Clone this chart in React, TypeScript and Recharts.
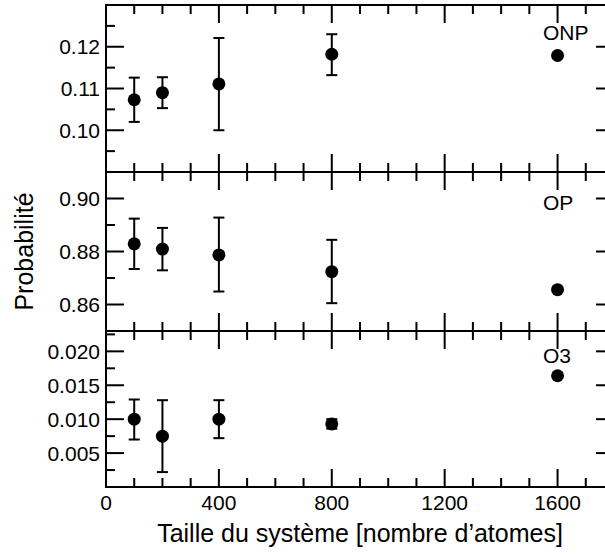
import React from 'react';
import { ScatterChart, Scatter, XAxis, YAxis, ErrorBar, ReferenceArea, Label } from 'recharts';

// ---- data ----
const sizes = [100, 200, 400, 800, 1600];

const onpValues = [0.1073, 0.109, 0.1111, 0.1182, 0.1179];
const onpLower = [0.102, 0.1053, 0.1, 0.1132, 0.1179];
const onpUpper = [0.1126, 0.1127, 0.1221, 0.123, 0.1179];

const opValues = [0.8829, 0.8809, 0.8787, 0.8724, 0.8656];
const opLower = [0.8734, 0.8729, 0.8649, 0.8605, 0.8656];
const opUpper = [0.8924, 0.8889, 0.8928, 0.8844, 0.8656];

const o3Values = [0.01, 0.0075, 0.01, 0.0093, 0.0164];
const o3Lower = [0.007, 0.0022, 0.0072, 0.0086, 0.0164];
const o3Upper = [0.0129, 0.0128, 0.0128, 0.01, 0.0164];

const xTicks = [0, 100, 200, 300, 400, 500, 600, 700, 800, 900, 1000, 1100, 1200, 1300, 1400, 1500, 1600, 1700, 1800];
const xMajorTicks = [0, 400, 800, 1200, 1600];
const xTickLabels = ['0', '400', '800', '1200', '1600'];

const onpMajorTicks = [0.1, 0.11, 0.12];
const onpMinorTicks = [0.095, 0.105, 0.115, 0.125];
const onpTickLabels = ['0.10', '0.11', '0.12'];

const opMajorTicks = [0.86, 0.88, 0.9];
const opMinorTicks = [0.87, 0.89];
const opTickLabels = ['0.86', '0.88', '0.90'];

const o3MajorTicks = [0.005, 0.01, 0.015, 0.02];
const o3MinorTicks = [0.0025, 0.0075, 0.0125, 0.0175, 0.0225];
const o3TickLabels = ['0.005', '0.010', '0.015', '0.020'];

const xTitle = 'Taille du système [nombre d\u2019atomes]';
const yTitle = 'Probabilité';

// ---- layout ----
const W = 620;
const H = 554;
const PLOT_LEFT = 106;
const PLOT_RIGHT = 614;
const Y_AXIS_W = 100;
const FONT = '"Liberation Sans", Arial, Helvetica, sans-serif';
const MAJOR_LEN = 18;
const MINOR_LEN = 9;

const findIdx = (arr: number[], v: number) => arr.findIndex((t) => Math.abs(t - v) < 1e-9);

type PanelCfg = {
  name: string;
  top: number;
  bottom: number;
  domain: [number, number];
  majors: number[];
  minors: number[];
  labels: string[];
  values: number[];
  lower: number[];
  upper: number[];
  nameDy: number;
  showX: boolean;
  showYTitle: boolean;
};

const panels: PanelCfg[] = [
  { name: 'ONP', top: 5, bottom: 172, domain: [0.09, 0.13], majors: onpMajorTicks, minors: onpMinorTicks, labels: onpTickLabels, values: onpValues, lower: onpLower, upper: onpUpper, nameDy: 35, showX: false, showYTitle: false },
  { name: 'OP', top: 172, bottom: 331, domain: [0.85, 0.91], majors: opMajorTicks, minors: opMinorTicks, labels: opTickLabels, values: opValues, lower: opLower, upper: opUpper, nameDy: 38, showX: false, showYTitle: true },
  { name: 'O3', top: 331, bottom: 487, domain: [0, 0.023], majors: o3MajorTicks, minors: o3MinorTicks, labels: o3TickLabels, values: o3Values, lower: o3Lower, upper: o3Upper, nameDy: 32, showX: true, showYTitle: false },
];

function Panel({ cfg }: { cfg: PanelCfg }) {
  const xAxisH = cfg.showX ? 60 : 10;
  const data = sizes.map((s, i) => ({
    x: s,
    y: cfg.values[i],
    err: [cfg.values[i] - cfg.lower[i], cfg.upper[i] - cfg.values[i]],
  }));
  const yTicks = [...cfg.majors, ...cfg.minors].sort((a, b) => a - b);

  const renderXTick = (p: any) => {
    const v = p.payload.value;
    const x = p.x;
    const idx = findIdx(xMajorTicks, v);
    const len = idx >= 0 ? MAJOR_LEN : MINOR_LEN;
    return (
      <g>
        <line x1={x} x2={x} y1={cfg.bottom} y2={cfg.bottom - len} stroke="#000" strokeWidth={2} />
        <line x1={x} x2={x} y1={cfg.top} y2={cfg.top + len} stroke="#000" strokeWidth={2} />
        {cfg.showX && idx >= 0 ? (
          <text x={x} y={cfg.bottom + 23} textAnchor="middle" fontSize={21} fontFamily={FONT} fill="#000">
            {xTickLabels[idx]}
          </text>
        ) : null}
      </g>
    );
  };

  const renderYTick = (p: any) => {
    const v = p.payload.value;
    const y = p.y;
    const idx = findIdx(cfg.majors, v);
    const len = idx >= 0 ? MAJOR_LEN : MINOR_LEN;
    return (
      <g>
        <line x1={PLOT_LEFT} x2={PLOT_LEFT + len} y1={y} y2={y} stroke="#000" strokeWidth={2} />
        <line x1={PLOT_RIGHT - len} x2={PLOT_RIGHT} y1={y} y2={y} stroke="#000" strokeWidth={2} />
        {idx >= 0 ? (
          <text x={PLOT_LEFT - 6} y={y} dy="0.36em" textAnchor="end" fontSize={21} fontFamily={FONT} fill="#000">
            {cfg.labels[idx]}
          </text>
        ) : null}
      </g>
    );
  };

  return (
    <div style={{ position: 'absolute', left: 0, top: 0 }}>
      <ScatterChart
        width={W}
        height={H}
        margin={{ top: cfg.top, bottom: H - cfg.bottom - xAxisH, left: PLOT_LEFT - Y_AXIS_W, right: W - PLOT_RIGHT }}
      >
        <XAxis
          type="number"
          dataKey="x"
          domain={[0, 1800]}
          allowDataOverflow
          ticks={xTicks}
          interval={0}
          tickLine={false}
          axisLine={false}
          height={xAxisH}
          tick={renderXTick}
        >
          {cfg.showX ? (
            <Label
              content={() => (
                <text x={(PLOT_LEFT + PLOT_RIGHT) / 2} y={cfg.bottom + 55} textAnchor="middle" fontSize={25} fontFamily={FONT} fill="#000">
                  {xTitle}
                </text>
              )}
            />
          ) : null}
        </XAxis>
        <YAxis
          type="number"
          dataKey="y"
          domain={cfg.domain}
          allowDataOverflow
          ticks={yTicks}
          interval={0}
          tickLine={false}
          axisLine={false}
          width={Y_AXIS_W}
          tick={renderYTick}
        >
          {cfg.showYTitle ? (
            <Label
              content={() => (
                <text
                  x={33}
                  y={(cfg.top + cfg.bottom) / 2}
                  transform={`rotate(-90 33 ${(cfg.top + cfg.bottom) / 2})`}
                  textAnchor="middle"
                  fontSize={25}
                  fontFamily={FONT}
                  fill="#000"
                >
                  {yTitle}
                </text>
              )}
            />
          ) : null}
        </YAxis>
        <ReferenceArea
          x1={0}
          x2={1800}
          y1={cfg.domain[0]}
          y2={cfg.domain[1]}
          fill="none"
          fillOpacity={0}
          stroke="#000"
          strokeWidth={2}
          ifOverflow="visible"
        >
          <Label
            content={(lp: any) => {
              const vb = lp.viewBox || {};
              return (
                <text x={vb.x + vb.width - 71} y={vb.y + cfg.nameDy} textAnchor="start" fontSize={21} fontFamily={FONT} fill="#000">
                  {cfg.name}
                </text>
              );
            }}
          />
        </ReferenceArea>
        <Scatter
          data={data}
          isAnimationActive={false}
          fill="#000"
          shape={(sp: any) => <circle cx={sp.cx} cy={sp.cy} r={6.5} fill="#000" />}
        >
          <ErrorBar dataKey="err" direction="y" width={5.5} stroke="#000" strokeWidth={2} isAnimationActive={false} />
        </Scatter>
      </ScatterChart>
    </div>
  );
}

export default function App() {
  return (
    <div style={{ position: 'fixed', left: 0, top: 0, width: 605, height: 554, overflow: 'hidden', background: '#fff' }}>
      {panels.map((cfg) => (
        <Panel key={cfg.name} cfg={cfg} />
      ))}
    </div>
  );
}
